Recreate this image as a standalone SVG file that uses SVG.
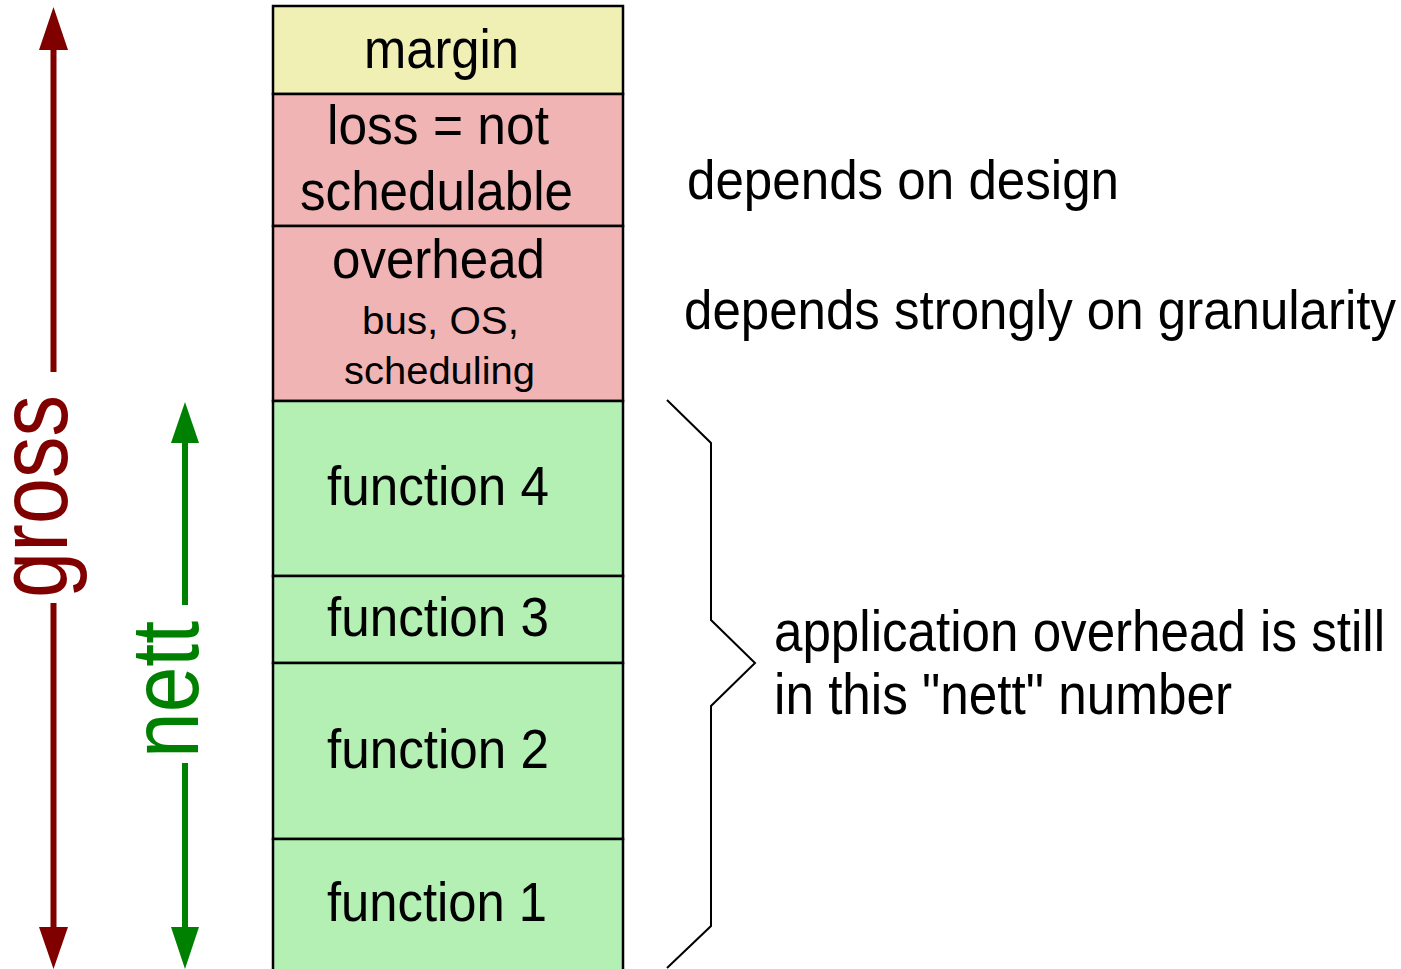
<svg xmlns="http://www.w3.org/2000/svg" width="1401" height="969" viewBox="0 0 1401 969">
<style>
text{font-family:"Liberation Sans",Arial,sans-serif;fill:#000;}
.box{stroke:#000;stroke-width:2.5;}
.y{fill:#f0f0b4;}
.r{fill:#f0b4b4;}
.g{fill:#b4f0b4;}
.big{font-size:56px;}
.small{font-size:38px;}
.side{font-size:56px;}
.red{stroke:#800000;stroke-width:6;fill:none;}
.grn{stroke:#008000;stroke-width:6;fill:none;}
.brace{stroke:#000;stroke-width:2;fill:none;}
</style>
<rect width="1401" height="969" fill="#fff"/>
<g id="margin"><rect class="box y" x="273" y="6" width="350" height="88"/><text class="big" x="364" y="68" textLength="155" lengthAdjust="spacingAndGlyphs">margin</text></g>
<g id="loss"><rect class="box r" x="273" y="94" width="350" height="132"/><text class="big" x="327" y="144" textLength="222" lengthAdjust="spacingAndGlyphs">loss = not</text><text class="big" x="300" y="210" textLength="273" lengthAdjust="spacingAndGlyphs">schedulable</text></g>
<g id="overhead"><rect class="box r" x="273" y="226" width="350" height="175"/><text class="big" x="332" y="278" textLength="213" lengthAdjust="spacingAndGlyphs">overhead</text><text class="small" x="362" y="334" textLength="157" lengthAdjust="spacingAndGlyphs">bus, OS,</text><text class="small" x="344" y="384" textLength="191" lengthAdjust="spacingAndGlyphs">scheduling</text></g>
<g id="function4"><rect class="box g" x="273" y="401" width="350" height="175"/><text class="big" x="327" y="505" textLength="222" lengthAdjust="spacingAndGlyphs">function 4</text></g>
<g id="function3"><rect class="box g" x="273" y="576" width="350" height="87"/><text class="big" x="327" y="636" textLength="222" lengthAdjust="spacingAndGlyphs">function 3</text></g>
<g id="function2"><rect class="box g" x="273" y="663" width="350" height="176"/><text class="big" x="327" y="768" textLength="222" lengthAdjust="spacingAndGlyphs">function 2</text></g>
<g id="function1"><rect class="box g" x="273" y="839" width="350" height="140"/><text class="big" x="327" y="921" textLength="220" lengthAdjust="spacingAndGlyphs">function 1</text></g>
<g id="notes">
<text class="side" x="687" y="199" textLength="432" lengthAdjust="spacingAndGlyphs">depends on design</text>
<text class="side" x="684" y="329" textLength="712" lengthAdjust="spacingAndGlyphs">depends strongly on granularity</text>
<text class="side" x="774" y="651" textLength="611" lengthAdjust="spacingAndGlyphs" style="font-size:58px">application overhead is still</text>
<text class="side" x="774" y="714" textLength="458" lengthAdjust="spacingAndGlyphs" style="font-size:58px">in this "nett" number</text>
</g>
<g id="connectors">
<line class="red" x1="53.5" y1="48" x2="53.5" y2="372"/>
<line class="red" x1="53.5" y1="603" x2="53.5" y2="929"/>
<polygon fill="#800000" points="53.5,7 68,50 39,50"/>
<polygon fill="#800000" points="53.5,969 68,927 39,927"/>
<line class="grn" x1="185" y1="441" x2="185" y2="605"/>
<line class="grn" x1="185" y1="763" x2="185" y2="929"/>
<polygon fill="#008000" points="185,402 199,443 171,443"/>
<polygon fill="#008000" points="185,969 199,927 171,927"/>
<polyline class="brace" points="667,400 711,443 711,620 755,663 711,706 711,926 667,968"/>
</g>
<g id="gross"><text transform="translate(67,598) rotate(-90)" style="font-size:98px;fill:#800000" textLength="203" lengthAdjust="spacingAndGlyphs">gross</text></g>
<g id="nett"><text transform="translate(198,758) rotate(-90)" style="font-size:96px;fill:#008000" textLength="137" lengthAdjust="spacingAndGlyphs">nett</text></g>
</svg>
